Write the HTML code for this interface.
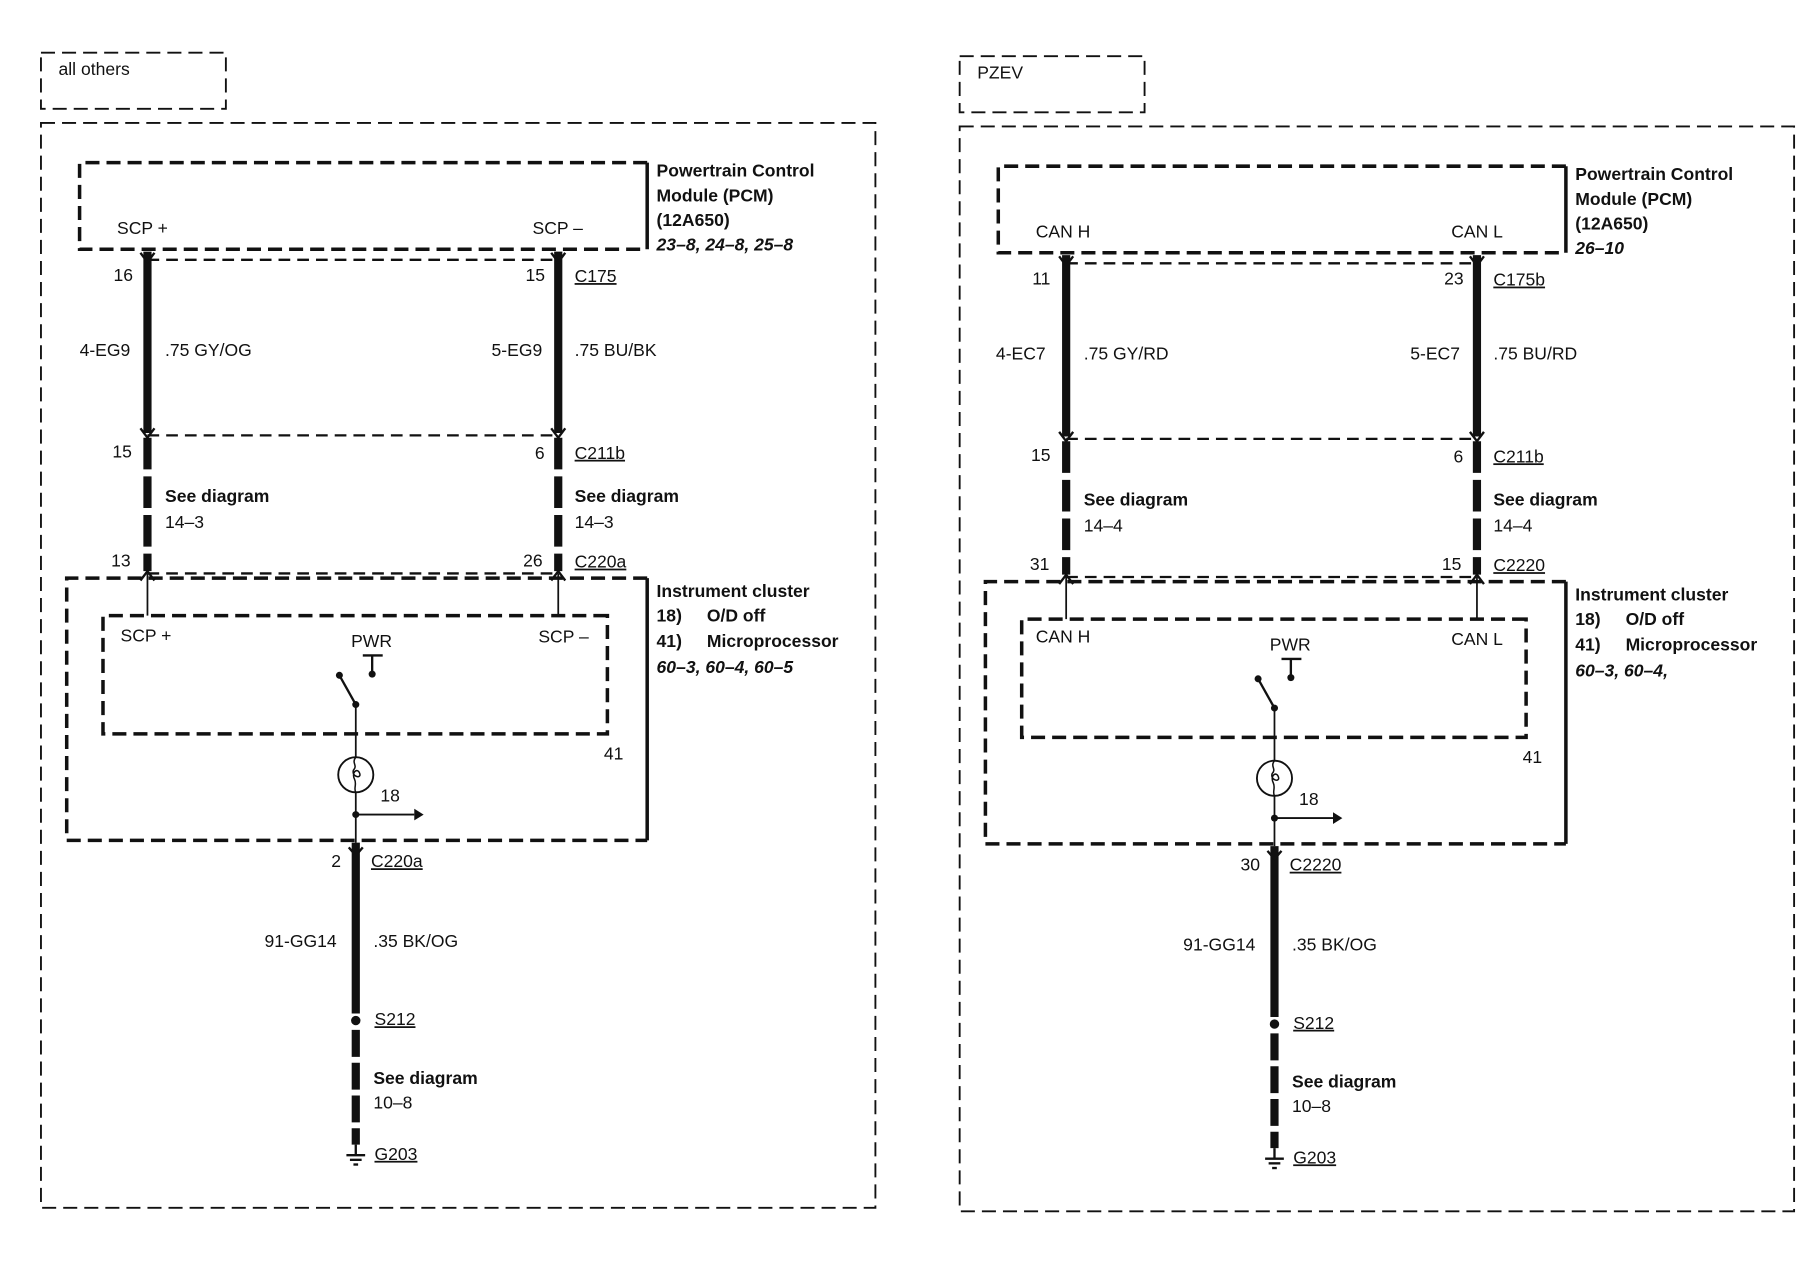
<!DOCTYPE html>
<html><head><meta charset="utf-8"><style>
html,body{margin:0;padding:0;background:#fff;}
svg{display:block;}
text{font-family:"Liberation Sans",Arial,sans-serif;font-size:15px;fill:#111;}
.b{font-weight:bold;}
.bi{font-weight:bold;font-style:italic;}
</style></head><body>
<svg width="1814" height="1264" viewBox="0 0 1550 1080" preserveAspectRatio="none" xmlns="http://www.w3.org/2000/svg">
<defs>
<g id="panel" fill="none" stroke="#111">
  <rect x="35" y="45" width="158" height="48" stroke-width="1.6" stroke-dasharray="12,6"/>
  <rect x="35" y="105" width="713" height="927" stroke-width="1.6" stroke-dasharray="12,6"/>
  <path d="M553 139 H68 V213 H553" stroke-width="3" stroke-dasharray="12,6"/>
  <line x1="553" y1="139" x2="553" y2="213" stroke-width="3"/>
  <line x1="126" y1="222" x2="477" y2="222" stroke-width="2" stroke-dasharray="10,6"/>
  <line x1="126" y1="372" x2="477" y2="372" stroke-width="2" stroke-dasharray="10,6"/>
  <line x1="126" y1="490" x2="477" y2="490" stroke-width="2" stroke-dasharray="10,6"/>
  <line x1="126" y1="215" x2="126" y2="370" stroke-width="7"/>
  <line x1="477" y1="215" x2="477" y2="370" stroke-width="7"/>
  <line x1="126" y1="374" x2="126" y2="488" stroke-width="7" stroke-dasharray="27,6"/>
  <line x1="477" y1="374" x2="477" y2="488" stroke-width="7" stroke-dasharray="27,6"/>
  <path d="M120 216 L126 224 L132 216 M120 366 L126 374 L132 366 M471 216 L477 224 L483 216 M471 366 L477 374 L483 366 M120 496 L126 488 L132 496 M471 496 L477 488 L483 496" stroke-width="2"/>
  <path d="M553 494 H57 V718 H553" stroke-width="3" stroke-dasharray="12,6"/>
  <line x1="553" y1="494" x2="553" y2="718" stroke-width="3"/>
  <line x1="126" y1="490" x2="126" y2="526" stroke-width="1.5"/>
  <line x1="477" y1="490" x2="477" y2="526" stroke-width="1.5"/>
  <path d="M519 526 H88 V627 H519 Z" stroke-width="3" stroke-dasharray="12,6"/>
  <line x1="310" y1="560" x2="327" y2="560" stroke-width="2"/>
  <line x1="318" y1="560" x2="318" y2="575" stroke-width="2"/>
  <line x1="290" y1="577" x2="304" y2="602" stroke-width="2"/>
  <line x1="304" y1="602" x2="304" y2="647" stroke-width="1.5"/>
  <circle cx="304" cy="662" r="15" stroke-width="1.6"/>
  <path d="M304 647 C300 652 306 654 302 658 C300 664 310 666 307 660 C305 656 300 660 303 666 C305 670 302 674 304 677" stroke-width="1.3"/>
  <line x1="304" y1="677" x2="304" y2="720" stroke-width="1.5"/>
  <line x1="304" y1="696" x2="354" y2="696" stroke-width="1.6"/>
  <line x1="304" y1="720" x2="304" y2="866" stroke-width="7"/>
  <path d="M298 724 L304 731 L310 724" stroke-width="2"/>
  <line x1="304" y1="880" x2="304" y2="978" stroke-width="7" stroke-dasharray="23,5"/>
  <line x1="304" y1="978" x2="304" y2="986" stroke-width="2"/>
  <line x1="296" y1="987" x2="312" y2="987" stroke-width="2"/>
  <line x1="299" y1="991" x2="309" y2="991" stroke-width="2"/>
  <line x1="302" y1="995" x2="306" y2="995" stroke-width="2"/>
</g>
<g id="dots" fill="#111" stroke="none">
  <circle cx="318" cy="576" r="3"/>
  <circle cx="290" cy="577" r="3"/>
  <circle cx="304" cy="602" r="3"/>
  <circle cx="304" cy="696" r="3"/>
  <circle cx="304" cy="872" r="4"/>
  <path d="M354 691 L362 696 L354 701 Z"/>
</g>
</defs>

<use href="#panel"/><use href="#dots"/>
<g transform="translate(785,3)"><use href="#panel"/><use href="#dots"/></g>

<text x="50" y="64">all others</text>
<text x="561" y="151" class="b">Powertrain Control</text>
<text x="561" y="172" class="b">Module (PCM)</text>
<text x="561" y="193" class="b">(12A650)</text>
<text x="561" y="214" class="bi">23–8, 24–8, 25–8</text>
<text x="100" y="200">SCP +</text>
<text x="455" y="200">SCP –</text>
<text x="97" y="240">16</text>
<text x="449" y="240">15</text>
<text x="491" y="241" text-decoration="underline">C175</text>
<text x="68" y="304">4-EG9</text>
<text x="141" y="304">.75 GY/OG</text>
<text x="420" y="304">5-EG9</text>
<text x="491" y="304">.75 BU/BK</text>
<text x="96" y="391">15</text>
<text x="457" y="392">6</text>
<text x="491" y="392" text-decoration="underline">C211b</text>
<text x="141" y="429" class="b">See diagram</text>
<text x="141" y="451">14–3</text>
<text x="491" y="429" class="b">See diagram</text>
<text x="491" y="451">14–3</text>
<text x="95" y="484">13</text>
<text x="447" y="484">26</text>
<text x="491" y="485" text-decoration="underline">C220a</text>
<text x="561" y="510" class="b">Instrument cluster</text>
<text x="561" y="531" class="b">18)</text><text x="604" y="531" class="b">O/D off</text>
<text x="561" y="553" class="b">41)</text><text x="604" y="553" class="b">Microprocessor</text>
<text x="561" y="575" class="bi">60–3, 60–4, 60–5</text>
<text x="103" y="548">SCP +</text>
<text x="300" y="553">PWR</text>
<text x="460" y="549">SCP –</text>
<text x="516" y="649">41</text>
<text x="325" y="685">18</text>
<text x="283" y="741">2</text>
<text x="317" y="741" text-decoration="underline">C220a</text>
<text x="226" y="809">91-GG14</text>
<text x="319" y="809">.35 BK/OG</text>
<text x="320" y="876" text-decoration="underline">S212</text>
<text x="319" y="926" class="b">See diagram</text>
<text x="319" y="947">10–8</text>
<text x="320" y="991" text-decoration="underline">G203</text>

<g transform="translate(785,3)">
<text x="50" y="64">PZEV</text>
<text x="561" y="151" class="b">Powertrain Control</text>
<text x="561" y="172" class="b">Module (PCM)</text>
<text x="561" y="193" class="b">(12A650)</text>
<text x="561" y="214" class="bi">26–10</text>
<text x="100" y="200">CAN H</text>
<text x="455" y="200">CAN L</text>
<text x="97" y="240">11</text>
<text x="449" y="240">23</text>
<text x="491" y="241" text-decoration="underline">C175b</text>
<text x="66" y="304">4-EC7</text>
<text x="141" y="304">.75 GY/RD</text>
<text x="420" y="304">5-EC7</text>
<text x="491" y="304">.75 BU/RD</text>
<text x="96" y="391">15</text>
<text x="457" y="392">6</text>
<text x="491" y="392" text-decoration="underline">C211b</text>
<text x="141" y="429" class="b">See diagram</text>
<text x="141" y="451">14–4</text>
<text x="491" y="429" class="b">See diagram</text>
<text x="491" y="451">14–4</text>
<text x="95" y="484">31</text>
<text x="447" y="484">15</text>
<text x="491" y="485" text-decoration="underline">C2220</text>
<text x="561" y="510" class="b">Instrument cluster</text>
<text x="561" y="531" class="b">18)</text><text x="604" y="531" class="b">O/D off</text>
<text x="561" y="553" class="b">41)</text><text x="604" y="553" class="b">Microprocessor</text>
<text x="561" y="575" class="bi">60–3, 60–4,</text>
<text x="100" y="546">CAN H</text>
<text x="300" y="553">PWR</text>
<text x="455" y="548">CAN L</text>
<text x="516" y="649">41</text>
<text x="325" y="685">18</text>
<text x="275" y="741">30</text>
<text x="317" y="741" text-decoration="underline">C2220</text>
<text x="226" y="809">91-GG14</text>
<text x="319" y="809">.35 BK/OG</text>
<text x="320" y="876" text-decoration="underline">S212</text>
<text x="319" y="926" class="b">See diagram</text>
<text x="319" y="947">10–8</text>
<text x="320" y="991" text-decoration="underline">G203</text>
</g>
</svg>
</body></html>
